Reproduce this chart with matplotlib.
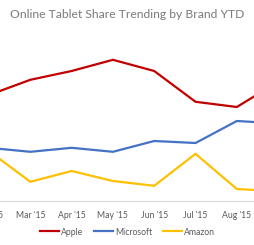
import matplotlib.pyplot as plt

months = ["Feb '15", "Mar '15", "Apr '15", "May '15", "Jun '15", "Jul '15", "Aug '15", "Sep '15"]
apple = [26.5, 30.3, 32.5, 35.3, 32.5, 24.8, 23.5, 29.8]
microsoft = [13.3, 12.3, 13.3, 12.3, 15.0, 14.5, 20.0, 19.4]
amazon = [12.5, 4.8, 7.5, 5.0, 3.8, 11.8, 3.0, 2.4]

plt.rcParams['font.family'] = ['Lato', 'DejaVu Sans']

fig = plt.figure(figsize=(2.55, 2.45), dpi=100)
fig.patch.set_facecolor('white')
# the chart is a crop of a wider one: axes run past both figure edges
ax = fig.add_axes([0, 44 / 245, 1, 171 / 245])

x = list(range(len(months)))
ax.plot(x, apple, color='#C00000', lw=1.6, label='Apple', solid_joinstyle='miter')
ax.plot(x, microsoft, color='#4472C4', lw=1.6, label='Microsoft', solid_joinstyle='miter')
ax.plot(x, amazon, color='#FFC000', lw=1.6, label='Amazon', solid_joinstyle='miter')

ax.set_xlim(0.266, 6.44)
ax.set_ylim(0, 42.75)
ax.set_xticks([])
ax.set_yticks([])
for s in ['top', 'left', 'right']:
    ax.spines[s].set_visible(False)
ax.spines['bottom'].set_color('#d9d9d9')
ax.spines['bottom'].set_linewidth(0.8)

# month labels as text; Sep falls outside the crop so it is left out
for i, m in enumerate(months[:-1]):
    ax.text(i, -14 / 171, m, transform=ax.get_xaxis_transform(), ha='center', va='center',
            fontsize=6.2, color='#595959', clip_on=False)

fig.text(0.5, 1 - 14 / 245, 'Online Tablet Share Trending by Brand YTD', ha='center', va='center',
         fontsize=8.7, color='#7a7a7a')

fig.legend(loc='center', bbox_to_anchor=(0.5, 13 / 245), ncol=3, frameon=False, fontsize=6.2,
           handlelength=2.2, handletextpad=0.2, columnspacing=1.3, labelcolor='#595959')

fig.savefig('out.png', dpi=100, facecolor='white')
